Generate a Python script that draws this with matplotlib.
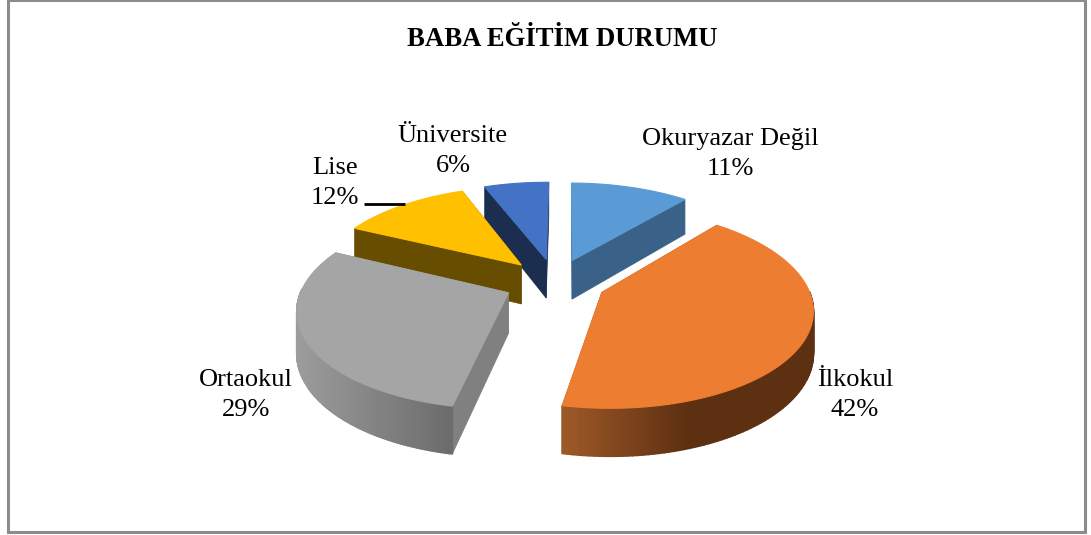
import numpy as np
import matplotlib
matplotlib.use('Agg')
import matplotlib.pyplot as plt
from matplotlib.patches import Polygon, Rectangle

categories = ['Okuryazar Değil', 'İlkokul', 'Ortaokul', 'Lise', 'Üniversite']
percents = [11, 42, 29, 12, 6]
title = 'BABA EĞİTİM DURUMU'

top_colors = ['#5B9BD5', '#ED7D31', '#A5A5A5', '#FFC000', '#4472C4']
face_colors = ['#3A6288', '#5E3012', '#808080', '#664D00', '#1B2E50']
wall_left = ['#3A6288', '#A05A28', '#9C9C9C', '#664D00', '#1B2E50']
wall_right = ['#3A6288', '#5E3012', '#6C6C6C', '#664D00', '#1B2E50']
wall_span = [1, 0.5, 1, 1, 1]
label_pos = [(730, 154), (855, 395), (246, 395), (335, 183), (453, 151)]

#Pie geometry in pixels
cx, cy = 555, 282
Rx, Ry = 204.5, 95
persp = 0.15
depth = 40
explode = 0.25
start_angle = 0.5


def project(u, v, z=0.0):
    '''Plane coords to image pixels, far side gets smaller.'''
    s = 1 / (1 + persp * v)
    return np.column_stack([cx + Rx * u * s, cy - Ry * v * s + depth * z * s])


def blend(c1, c2, t):
    a, b = np.array(matplotlib.colors.to_rgb(c1)), np.array(matplotlib.colors.to_rgb(c2))
    return a + (b - a) * t


fig = plt.figure(figsize=(10.91, 5.35), dpi=100)
ax = fig.add_axes([0, 0, 1, 1])
ax.set_xlim(0, 1091)
ax.set_ylim(535, 0)
ax.axis('off')

ax.add_patch(Rectangle((7.5, 0), 1077, 532, fill=False, ec='#8C8C8C', lw=2.2))

#Angles clockwise from 12 o'clock
edges = np.cumsum([0] + percents) / sum(percents) * 2 * np.pi + np.radians(start_angle)
slices = []
for i in range(len(percents)):
    mid = (edges[i] + edges[i + 1]) / 2
    slices.append((i, edges[i], edges[i + 1], explode * np.sin(mid), explode * np.cos(mid)))

#Back to front
for i, a0, a1, du, dv in sorted(slices, key=lambda s: -s[4]):
    t = np.linspace(a0, a1, 120)
    u, v = du + np.sin(t), dv + np.cos(t)
    top = project(u, v)
    bottom = project(u, v, 1)
    apex_top = project(np.array([du]), np.array([dv]))
    apex_bot = project(np.array([du]), np.array([dv]), 1)

    #Cut faces
    ax.add_patch(Polygon(np.vstack([apex_top, top[:1], bottom[:1], apex_bot]), fc=face_colors[i], ec=face_colors[i], lw=0.5))
    ax.add_patch(Polygon(np.vstack([apex_top, top[-1:], bottom[-1:], apex_bot]), fc=face_colors[i], ec=face_colors[i], lw=0.5))

    #Outer wall, only the near part shows, shaded from left to right
    xmin, xmax = top[:, 0].min(), top[:, 0].max()
    for j in range(len(t) - 1):
        if np.cos(t[j]) > 0.02:
            continue
        f = np.clip(((top[j, 0] - xmin) / (xmax - xmin)) / wall_span[i], 0, 1)
        col = blend(wall_left[i], wall_right[i], f)
        ax.add_patch(Polygon(np.vstack([top[j], top[j + 1], bottom[j + 1], bottom[j]]), fc=col, ec=col, lw=1.2, joinstyle='round'))

    ax.add_patch(Polygon(np.vstack([apex_top, top]), fc=top_colors[i], ec=top_colors[i], lw=0.8))

ax.plot([364, 405], [204, 204], color='black', lw=2, solid_capstyle='butt')

serif = ['Liberation Serif', 'DejaVu Serif']
ax.text(562, 40, title, ha='center', va='center', family=serif, fontsize=19.3, fontweight='bold', color='black')
for name, pct, (x, y) in zip(categories, percents, label_pos):
    ax.text(x, y, f'{name}\n{pct}%', ha='center', va='center', family=serif, fontsize=19, color='black', linespacing=1.5)

fig.savefig('out.png', dpi=100)
